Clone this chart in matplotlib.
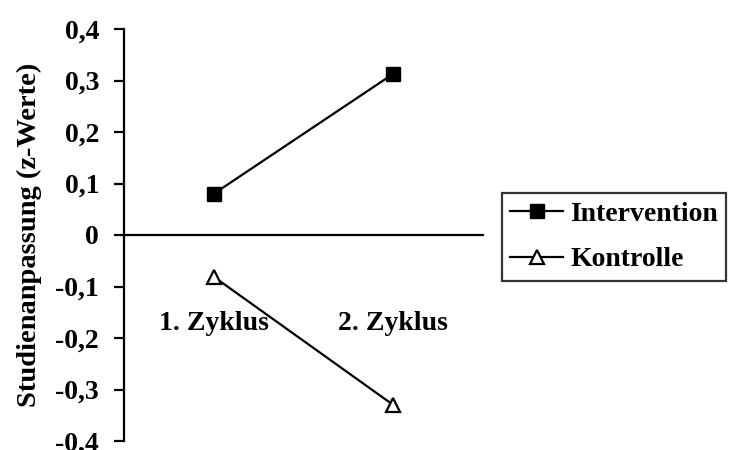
import numpy as np
import matplotlib
matplotlib.use('Agg')
import matplotlib.pyplot as plt

# values
zyklen = ['1. Zyklus', '2. Zyklus']
intervention = [0.08, 0.313]
kontrolle = [-0.081, -0.33]
yticks = [-0.4, -0.3, -0.2, -0.1, 0, 0.1, 0.2, 0.3, 0.4]
ylabels = ['-0,4', '-0,3', '-0,2', '-0,1', '0', '0,1', '0,2', '0,3', '0,4']

plt.rcParams['font.family'] = ['Liberation Serif', 'DejaVu Serif']
plt.rcParams['font.weight'] = 'bold'
fs = 20

fig = plt.figure(figsize=(7.3, 4.5), dpi=100)
ax = fig.add_axes([124/730, 9/450, 359/730, 412/450])

x = np.arange(len(zyklen)) + 0.5
ax.plot(x, intervention, color='black', lw=1.6, marker='s', ms=10,
        mfc='black', mec='black', label='Intervention')
ax.plot(x, kontrolle, color='black', lw=1.6, marker='^', ms=10,
        mfc='white', mec='black', mew=1.6, label='Kontrolle')

ax.set_xlim(0, 2)
ax.set_ylim(-0.4, 0.4)
ax.set_yticks(yticks)
ax.set_yticklabels(ylabels, fontsize=fs, fontweight='bold')
ax.tick_params(axis='y', direction='out', length=7, width=1.6, pad=11)

ax.spines['top'].set_visible(False)
ax.spines['right'].set_visible(False)
ax.spines['bottom'].set_position(('data', 0))
for s in ['left', 'bottom']:
    ax.spines[s].set_linewidth(1.6)

# category labels sit well below the zero line
ax.set_xticks(x)
ax.set_xticklabels(zyklen, fontsize=fs, fontweight='bold')
ax.tick_params(axis='x', length=0, pad=55)

ax.set_ylabel('Studienanpassung (z-Werte)', fontsize=20.5, fontweight='bold')
ax.yaxis.set_label_coords(-0.228, 0.5)

leg = fig.legend(loc='upper left', bbox_to_anchor=(502/730, 1 - 193/450),
                 fontsize=fs, frameon=True, fancybox=False, edgecolor='black',
                 handlelength=1.9, handletextpad=0.25, borderpad=0.3,
                 labelspacing=0.72, borderaxespad=0)
leg.get_frame().set_linewidth(1.6)
for t in leg.get_texts():
    t.set_fontweight('bold')

fig.savefig('out.png', dpi=100)
